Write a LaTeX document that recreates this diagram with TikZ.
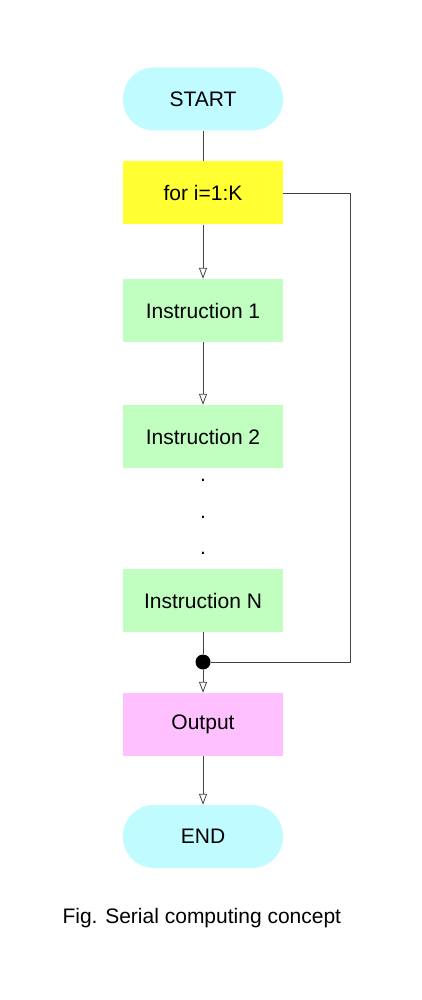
\documentclass[tikz,border=0pt]{standalone}
\usepackage{fontspec}
\setmainfont{Liberation Sans}
\usetikzlibrary{arrows.meta}
\definecolor{capcol}{HTML}{C0FCFF}
\definecolor{forcol}{HTML}{FFFF33}
\definecolor{inscol}{HTML}{C0FFC0}
\definecolor{outcol}{HTML}{FFC0FF}
\definecolor{linecol}{HTML}{444444}
\begin{document}
\begin{tikzpicture}[x=1pt,y=-1pt,
  every node/.style={font=\fontsize{21}{25}\selectfont},
  box/.style={minimum width=160pt,minimum height=63pt,inner sep=0pt,draw=none},
  capsule/.style={box,rounded corners=31pt,fill=capcol},
  conn/.style={draw=linecol,line width=0.8pt},
  arr/.style={conn,-{Triangle[open,width=8pt,length=11pt]}}]
\useasboundingbox (0,0) rectangle (421,1000);
\node[capsule] (start) at (203,99) {START};
\node[box,fill=forcol] (for) at (203,193) {for i=1:K};
\node[box,fill=inscol] (i1) at (203,310.5) {Instruction 1};
\node[box,fill=inscol] (i2) at (203,436.5) {Instruction 2};
\node (d1) at (203,480) {.};
\node (d2) at (203,517) {.};
\node (d3) at (203,553) {.};
\node[box,fill=inscol] (iN) at (203,600.5) {Instruction N};
\node[box,fill=outcol] (out) at (203,724.5) {Output};
\node[capsule] (end) at (203,836.5) {END};
\node[circle,fill=black,minimum size=15pt,inner sep=0pt] (dot) at (203,662) {};
\coordinate (c1) at (350,193);
\coordinate (c2) at (350,662);
\node[anchor=west] (cap) at (59,918) {Fig. Serial computing concept};
\draw[conn] (start) -- (for);
\draw[arr] (for) -- (i1);
\draw[arr] (i1) -- (i2);
\draw[conn] (iN) -- (dot);
\draw[arr] (dot) -- (out);
\draw[arr] (out) -- (end);
\draw[conn] (for.east) -- (c1) -- (c2) -- (dot);
\end{tikzpicture}
\end{document}
